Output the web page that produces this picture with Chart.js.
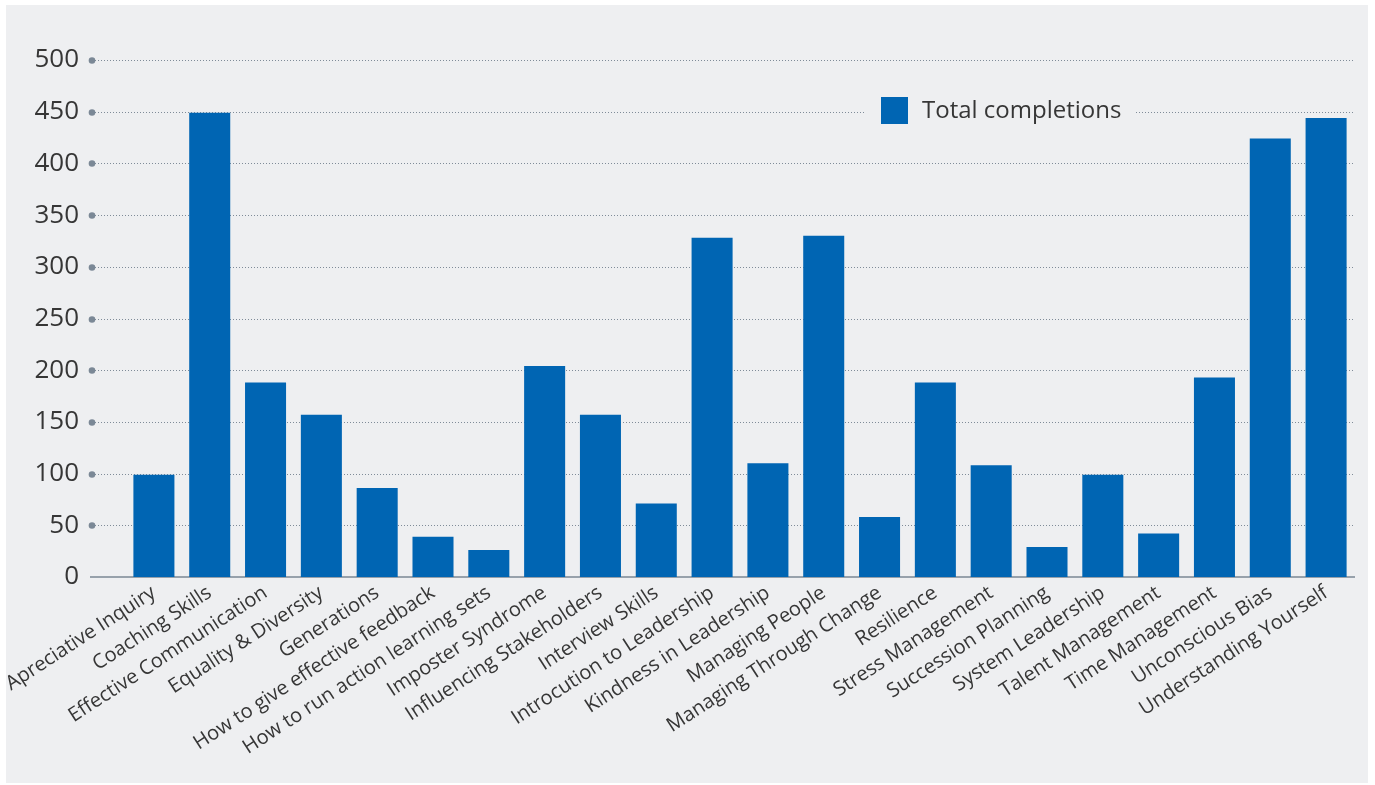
<!DOCTYPE html>
<html>
<head>
<meta charset="utf-8">
<script src="https://cdn.jsdelivr.net/npm/chart.js@4/dist/chart.umd.min.js"></script>
<style>
    body { margin: 0; background: #ffffff; }
    #panel {
        position: absolute;
        left: 6px;
        top: 5px;
        width: 1362px;
        height: 778px;
        background: #eeeff1;
    }
    canvas { display: block; }
</style>
</head>
<body>
<div id="panel"><canvas id="chart" width="1362" height="778"></canvas></div>
<script>
const courses = [
    'Apreciative Inquiry',
    'Coaching Skills',
    'Effective Communication',
    'Equality & Diversity',
    'Generations',
    'How to give effective feedback',
    'How to run action learning sets',
    'Imposter Syndrome',
    'Influencing Stakeholders',
    'Interview Skills',
    'Introcution to Leadership',
    'Kindness in Leadership',
    'Managing People',
    'Managing Through Change',
    'Resilience',
    'Stress Management',
    'Succession Planning',
    'System Leadership',
    'Talent Management',
    'Time Management',
    'Unconscious Bias',
    'Understanding Yourself',
];

const completions = [
    99, 449, 188, 157, 86, 39, 26, 204, 157, 71, 328,
    110, 330, 58, 188, 108, 29, 99, 42, 193, 424, 444,
];

const seriesLabel = 'Total completions';
const yTicks = [0, 50, 100, 150, 200, 250, 300, 350, 400, 450, 500];

const COLORS = {
    bar: '#0065b3',
    panel: '#eeeff1',
    text: '#363636',
    grid: '#7f8b98',
    dot: '#7b8896',
    axis: '#97a1ab',
};

const FONT = '"Open Sans", "Noto Sans", sans-serif';

// dotted grid lines with the round marker, and the solid base line
const gridPlugin = {
    id: 'panelGrid',
    beforeDatasetsDraw(chart) {
        const { ctx, chartArea, scales } = chart;
        const y = scales.y;
        const startX = chartArea.left - 34;
        ctx.save();
        yTicks.forEach(v => {
            const py = Math.round(y.getPixelForValue(v));
            if (v === 0) {
                ctx.strokeStyle = COLORS.axis;
                ctx.lineWidth = 2;
                ctx.setLineDash([]);
                ctx.beginPath();
                ctx.moveTo(startX - 2, py);
                ctx.lineTo(chartArea.right + 1, py);
                ctx.stroke();
                return;
            }
            ctx.strokeStyle = COLORS.grid;
            ctx.lineWidth = 1;
            ctx.setLineDash([1, 2]);
            ctx.beginPath();
            ctx.moveTo(startX, py + 0.5);
            ctx.lineTo(chartArea.right, py + 0.5);
            ctx.stroke();
            ctx.setLineDash([]);
            ctx.fillStyle = COLORS.dot;
            ctx.beginPath();
            ctx.arc(startX, py + 0.5, 3.3, 0, Math.PI * 2);
            ctx.fill();
        });
        ctx.restore();
    }
};

// legend sitting on the 450 line
const legendPlugin = {
    id: 'panelLegend',
    afterDatasetsDraw(chart) {
        const { ctx } = chart;
        const ds = chart.data.datasets[0];
        const boxX = 875, boxY = 92, box = 27;
        ctx.save();
        ctx.fillStyle = COLORS.panel;
        ctx.fillRect(860, 94, 270, 24);
        ctx.fillStyle = ds.backgroundColor;
        ctx.fillRect(boxX, boxY, box, box);
        ctx.fillStyle = COLORS.text;
        ctx.font = '24px ' + FONT;
        ctx.textBaseline = 'middle';
        ctx.textAlign = 'left';
        ctx.fillText(ds.label, boxX + box + 14, boxY + box / 2 + 1);
        ctx.restore();
    }
};

const ctx = document.getElementById('chart').getContext('2d');

new Chart(ctx, {
    type: 'bar',
    data: {
        labels: courses,
        datasets: [{
            label: seriesLabel,
            data: completions,
            backgroundColor: COLORS.bar,
            borderWidth: 0,
            categoryPercentage: 1,
            barPercentage: 0.735,
        }]
    },
    options: {
        responsive: false,
        animation: false,
        layout: {
            padding: { top: 55, right: 14, bottom: 0, left: 0 }
        },
        plugins: {
            legend: { display: false },
            tooltip: { enabled: false }
        },
        scales: {
            x: {
                grid: { display: false, drawTicks: false },
                border: { display: false },
                ticks: {
                    autoSkip: false,
                    minRotation: 33,
                    maxRotation: 33,
                    padding: 4,
                    color: COLORS.text,
                    font: { family: FONT, size: 20 }
                },
                afterFit(scale) {
                    scale.height = 206;
                    scale.paddingLeft = 0;
                    scale.paddingRight = 0;
                }
            },
            y: {
                min: 0,
                max: 500,
                grid: { display: false, drawTicks: false },
                border: { display: false },
                ticks: {
                    stepSize: 50,
                    padding: 47,
                    color: COLORS.text,
                    font: { family: FONT, size: 26 }
                },
                afterFit(scale) {
                    scale.width = 120;
                    scale.paddingTop = 0;
                    scale.paddingBottom = 0;
                }
            }
        }
    },
    plugins: [gridPlugin, legendPlugin]
});
</script>
</body>
</html>
